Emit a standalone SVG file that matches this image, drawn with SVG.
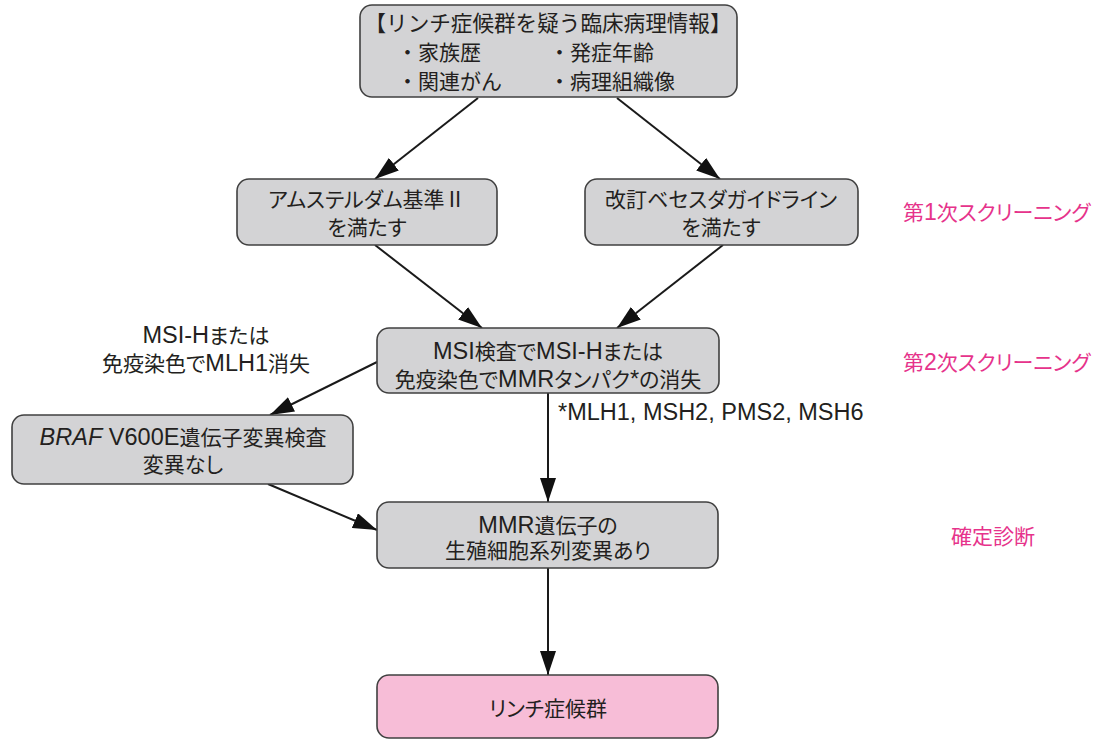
<svg xmlns="http://www.w3.org/2000/svg" width="1097" height="741" viewBox="0 0 1097 741">
<style>
.box{fill:#d3d3d5;stroke:#404040;stroke-width:1.6}
.pink{fill:#f7bdd7;stroke:#404040;stroke-width:1.6}
text{font-family:"Liberation Sans","Noto Sans CJK JP",sans-serif;font-size:21px;fill:#231f20;font-feature-settings:"palt"}
.np{font-feature-settings:normal}
.t{font-size:21.6px}
.c{text-anchor:middle}
.L{font-size:23.5px}
.side{fill:#e6338b;font-size:21px}
.side .L{font-size:23px}
.conn{stroke:#1a1a1a;stroke-width:2;fill:none;marker-end:url(#ah)}
</style>
<defs>
<marker id="ah" viewBox="0 0 24 16" refX="24" refY="8" markerWidth="24" markerHeight="16" orient="auto" markerUnits="userSpaceOnUse">
<path d="M0,0 L24,8 L0,16 Z" fill="#111"/>
</marker>
</defs>
<rect width="1097" height="741" fill="#fff"/>
<g id="connectors">
<line class="conn" x1="478" y1="98" x2="375" y2="179"/>
<line class="conn" x1="617" y1="98" x2="720" y2="179"/>
<line class="conn" x1="375" y1="245" x2="482" y2="328"/>
<line class="conn" x1="723" y1="245" x2="617" y2="328"/>
<line class="conn" x1="377" y1="362" x2="270" y2="415"/>
<line class="conn" x1="268" y1="484" x2="377" y2="530"/>
<line class="conn" x1="548" y1="393" x2="548" y2="502"/>
<line class="conn" x1="548" y1="568" x2="548" y2="675"/>
</g>
<g id="node-info">
<rect class="box" x="360" y="5" width="377" height="92" rx="12"/>
<text class="c np t" x="548" y="31">【リンチ症候群を疑う臨床病理情報】</text>
<text class="np" x="397" y="60">・家族歴</text>
<text class="np" x="549" y="60">・発症年齢</text>
<text class="np" x="397" y="89">・関連がん</text>
<text class="np" x="549" y="89">・病理組織像</text>
</g>
<g id="node-amsterdam">
<rect class="box" x="237" y="179" width="260" height="66" rx="12"/>
<text class="c" x="367" y="207">アムステルダム基準Ⅱ</text>
<text class="c" x="367" y="235">を満たす</text>
</g>
<g id="node-bethesda">
<rect class="box" x="585" y="179" width="273" height="66" rx="12"/>
<text class="c" x="721" y="207">改訂ベセスダガイドライン</text>
<text class="c" x="721" y="235">を満たす</text>
</g>
<g id="node-msi">
<rect class="box" x="377" y="328" width="342" height="65" rx="12"/>
<text class="c" x="548" y="359"><tspan class="L">MSI</tspan>検査で<tspan class="L">MSI-H</tspan>または</text>
<text class="c" x="548" y="387">免疫染色で<tspan class="L">MMR</tspan>タンパク<tspan class="L">*</tspan>の消失</text>
</g>
<g id="label-mlh1">
<text class="c" x="206" y="343"><tspan class="L">MSI-H</tspan>または</text>
<text class="c" x="206" y="371">免疫染色で<tspan class="L">MLH1</tspan>消失</text>
</g>
<g id="label-footnote">
<text x="558" y="420" class="L">*MLH1, MSH2, PMS2, MSH6</text>
</g>
<g id="node-braf">
<rect class="box" x="12" y="415" width="341" height="69" rx="12"/>
<text class="c" x="183" y="445"><tspan class="L" font-style="italic">BRAF</tspan><tspan class="L"> V600E</tspan>遺伝子変異検査</text>
<text class="c" x="183" y="472">変異なし</text>
</g>
<g id="node-mmr">
<rect class="box" x="377" y="502" width="341" height="66" rx="12"/>
<text class="c" x="548" y="533"><tspan class="L">MMR</tspan>遺伝子の</text>
<text class="c" x="548" y="558">生殖細胞系列変異あり</text>
</g>
<g id="node-lynch">
<rect class="pink" x="377" y="675" width="341" height="63" rx="12"/>
<text class="c" x="548" y="716">リンチ症候群</text>
</g>
<g id="labels-stage">
<text class="side" x="903" y="220">第<tspan class="L">1</tspan>次スクリーニング</text>
<text class="side" x="903" y="370">第<tspan class="L">2</tspan>次スクリーニング</text>
<text class="side" x="951" y="544">確定診断</text>
</g>
</svg>
